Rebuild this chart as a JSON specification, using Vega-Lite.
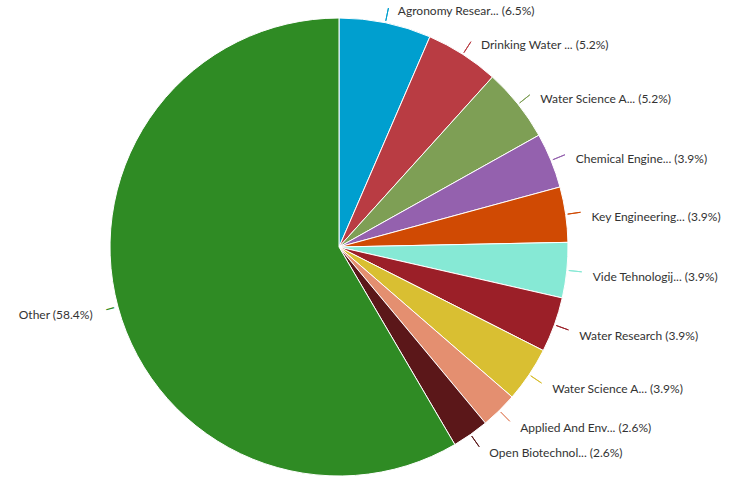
{
  "$schema": "https://vega.github.io/schema/vega-lite/v6.json",
  "width": 678,
  "height": 472,
  "autosize": {"type": "none"},
  "padding": {"left": 0, "top": 11, "right": 62, "bottom": 0},
  "background": "white",
  "data": {
    "values": [
      {"name": "Agronomy Research", "label": "Agronomy Resear... (6.5%)", "count": 5, "order": 1},
      {"name": "Drinking Water", "label": "Drinking Water ... (5.2%)", "count": 4, "order": 2},
      {"name": "Water Science A1", "label": "Water Science A... (5.2%)", "count": 4, "order": 3},
      {"name": "Chemical Engineering", "label": "Chemical Engine... (3.9%)", "count": 3, "order": 4},
      {"name": "Key Engineering", "label": "Key Engineering... (3.9%)", "count": 3, "order": 5},
      {"name": "Vide Tehnologiji", "label": "Vide Tehnologij... (3.9%)", "count": 3, "order": 6},
      {"name": "Water Research", "label": "Water Research (3.9%)", "count": 3, "order": 7},
      {"name": "Water Science A2", "label": "Water Science A... (3.9%)", "count": 3, "order": 8},
      {"name": "Applied And Env", "label": "Applied And Env... (2.6%)", "count": 2, "order": 9},
      {"name": "Open Biotechnol", "label": "Open Biotechnol... (2.6%)", "count": 2, "order": 10},
      {"name": "Other", "label": "Other (58.4%)", "count": 45, "order": 11}
    ]
  },
  "encoding": {
    "theta": {"field": "count", "type": "quantitative", "stack": true},
    "order": {"field": "order", "type": "quantitative"},
    "color": {
      "field": "name",
      "type": "nominal",
      "legend": null,
      "sort": {"field": "order"},
      "scale": {
        "domain": ["Agronomy Research", "Drinking Water", "Water Science A1", "Chemical Engineering", "Key Engineering", "Vide Tehnologiji", "Water Research", "Water Science A2", "Applied And Env", "Open Biotechnol", "Other"],
        "range": ["#009FCF", "#B93C43", "#7E9F55", "#9461AE", "#D04A03", "#86E9D5", "#9B1F28", "#D9BF32", "#E48F70", "#5B1719", "#2F8B24"]
      }
    }
  },
  "layer": [
    {
      "mark": {"type": "arc", "outerRadius": 229, "stroke": "white", "strokeWidth": 1}
    },
    {
      "mark": {"type": "arc", "radius": 231, "radius2": 244, "padAngle": 2.4, "strokeWidth": 1, "fillOpacity": 0, "filled": false},
      "encoding": {
        "strokeOpacity": {"condition": {"test": "datum.name === 'Other'", "value": 0}, "value": 1}
      }
    },
    {
      "mark": {"type": "text", "radius": 237, "angle": 345, "align": "center", "baseline": "middle", "font": "DejaVu Sans", "fontSize": 13},
      "encoding": {
        "text": {"condition": {"test": "datum.name === 'Other'", "value": "─"}, "value": ""}
      }
    },
    {
      "mark": {"type": "text", "radius": 246, "dx": 9, "dy": 5, "align": "left", "baseline": "middle", "font": "Lato", "fontSize": 12, "fill": "#333333"},
      "encoding": {
        "text": {"condition": {"test": "datum.name !== 'Other'", "field": "label"}, "value": ""},
        "color": {"value": "#333333"}
      }
    },
    {
      "mark": {"type": "text", "radius": 246, "dx": -9, "dy": 4, "align": "right", "baseline": "middle", "font": "Lato", "fontSize": 12, "fill": "#333333"},
      "encoding": {
        "text": {"condition": {"test": "datum.name === 'Other'", "field": "label"}, "value": ""},
        "color": {"value": "#333333"}
      }
    }
  ]
}
